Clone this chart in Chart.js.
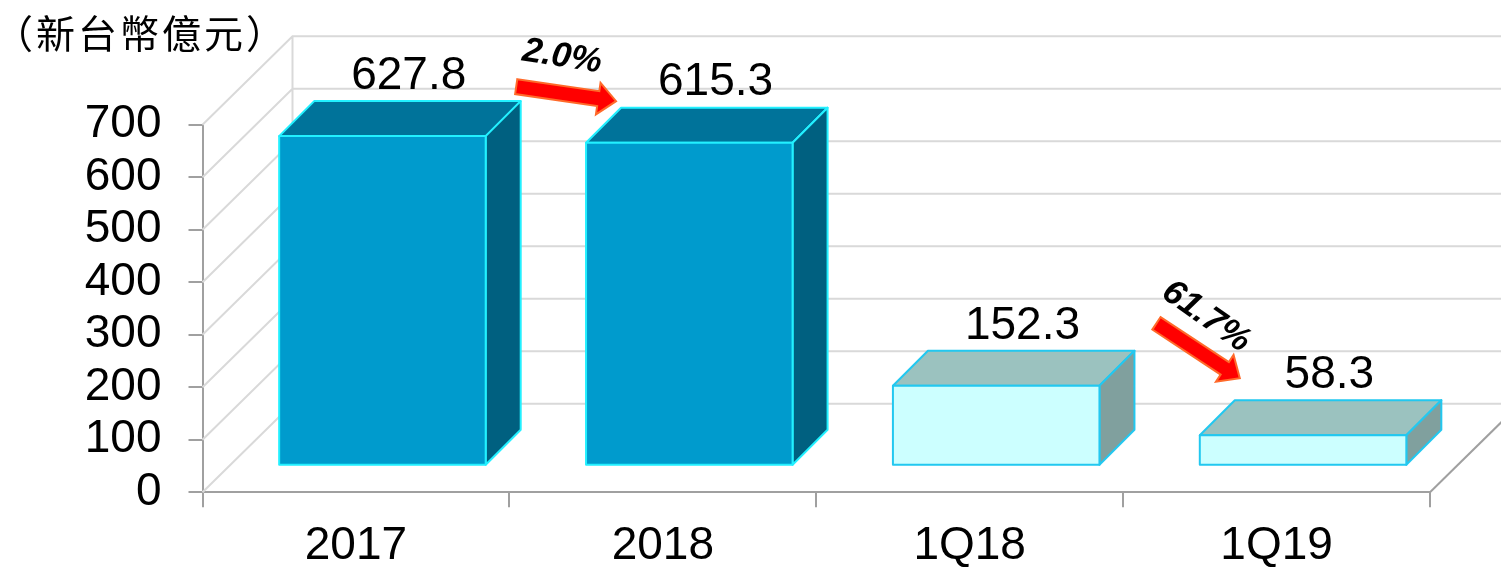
<!DOCTYPE html>
<html><head><meta charset="utf-8">
<script src="https://cdn.jsdelivr.net/npm/chart.js@4.4.1/dist/chart.umd.min.js"></script>
<style>html,body{margin:0;padding:0;background:#fff;overflow:hidden}</style>
</head><body>
<canvas id="c" width="1501" height="567" style="width:1501px;height:567px;display:block"></canvas>
<script>
// ---- data ----
const categories = ['2017', '2018', '1Q18', '1Q19'];
const values = [627.8, 615.3, 152.3, 58.3];
const yTickValues = [0, 100, 200, 300, 400, 500, 600, 700];
const unitLabel = '（新台幣億元）';
const changePairs = [[0, 1], [2, 3]];

// ---- styles ----
const frontColors = ['#009BCD', '#009BCD', '#CCFFFF', '#CCFFFF'];
const topColors   = ['#00739A', '#00739A', '#9BC2BF', '#9BC2BF'];
const sideColors  = ['#006080', '#006080', '#80A09E', '#80A09E'];
const edgeColors  = ['#22F0FF', '#22F0FF', '#22C8F0', '#22C8F0'];
const FONT = "'Liberation Sans', Arial, sans-serif";
const WALL_X = 90, WALL_Y = 88.5;   // back wall offset
const FRONT_GAP = 26.5;              // bar front face offset from front plane
const DEPTH = 35;                    // bar depth
const arrowStyle = [
  {tail: [-4.5, -14.5], tip: [-5, -6.5], text: [-4, -37], rot: 9},
  {tail: [22, -27.5], tip: [5, -22], text: [8, -34], rot: 35}
];

function barGeom(el) {
  const L = el.x - el.width / 2 + FRONT_GAP, R = el.x + el.width / 2 + FRONT_GAP;
  const T = el.y - FRONT_GAP, B = el.base - FRONT_GAP;
  return {L, R, T, B};
}

function drawArrow(ctx, x1, y1, x2, y2) {
  const ang = Math.atan2(y2 - y1, x2 - x1), len = Math.hypot(x2 - x1, y2 - y1);
  const sw = 7.5, hw = 16, hl = 18;
  ctx.save();
  ctx.translate(x1, y1); ctx.rotate(ang);
  ctx.beginPath();
  ctx.moveTo(0, -sw); ctx.lineTo(len - hl, -sw); ctx.lineTo(len - hl, -hw);
  ctx.lineTo(len, 0); ctx.lineTo(len - hl, hw); ctx.lineTo(len - hl, sw); ctx.lineTo(0, sw);
  ctx.closePath();
  ctx.fillStyle = '#FF0000'; ctx.fill();
  ctx.strokeStyle = '#FF6A2A'; ctx.lineWidth = 2; ctx.lineJoin = 'miter'; ctx.stroke();
  ctx.restore();
}

const threeD = {
  id: 'threeD',
  beforeDatasetsDraw(chart) {
    const {ctx, scales: {y}, chartArea: a} = chart;
    ctx.save();
    ctx.lineWidth = 2;
    ctx.strokeStyle = '#D9D9D9';
    ctx.beginPath();
    for (const v of yTickValues) {
      const py = y.getPixelForValue(v);
      ctx.moveTo(a.left, py);
      ctx.lineTo(a.left + WALL_X, py - WALL_Y);
      ctx.lineTo(a.right + WALL_X, py - WALL_Y);
    }
    ctx.moveTo(a.left + WALL_X, y.getPixelForValue(yTickValues[0]) - WALL_Y);
    ctx.lineTo(a.left + WALL_X, y.getPixelForValue(yTickValues[yTickValues.length - 1]) - WALL_Y);
    ctx.stroke();
    ctx.strokeStyle = '#A0A0A0';
    ctx.beginPath();
    ctx.moveTo(a.right, a.bottom);
    ctx.lineTo(a.right + WALL_X, a.bottom - WALL_Y);
    ctx.stroke();
    ctx.restore();
  },
  afterDatasetsDraw(chart) {
    const {ctx} = chart;
    const meta = chart.getDatasetMeta(0);
    ctx.save();
    meta.data.forEach((el, i) => {
      const {L, R, T, B} = barGeom(el);
      ctx.lineWidth = 2;
      ctx.lineJoin = 'round';
      ctx.strokeStyle = edgeColors[i];
      ctx.beginPath();
      ctx.moveTo(L, T); ctx.lineTo(R, T); ctx.lineTo(R + DEPTH, T - DEPTH); ctx.lineTo(L + DEPTH, T - DEPTH); ctx.closePath();
      ctx.fillStyle = topColors[i]; ctx.fill(); ctx.stroke();
      ctx.beginPath();
      ctx.moveTo(R, T); ctx.lineTo(R + DEPTH, T - DEPTH); ctx.lineTo(R + DEPTH, B - DEPTH); ctx.lineTo(R, B); ctx.closePath();
      ctx.fillStyle = sideColors[i]; ctx.fill(); ctx.stroke();
      ctx.beginPath();
      ctx.rect(L, T, R - L, B - T);
      ctx.fillStyle = frontColors[i]; ctx.fill(); ctx.stroke();
      ctx.fillStyle = '#000';
      ctx.font = '46px ' + FONT;
      ctx.textAlign = 'center';
      ctx.textBaseline = 'middle';
      ctx.fillText(values[i].toFixed(1), (L + R) / 2 + DEPTH * 0.75, T - DEPTH - 25);
    });
    changePairs.forEach(([f, t], k) => {
      const g1 = barGeom(meta.data[f]), g2 = barGeom(meta.data[t]);
      const s = arrowStyle[k];
      const x1 = g1.R + DEPTH + s.tail[0], y1 = g1.T - DEPTH + s.tail[1];
      const x2 = g2.L + DEPTH + s.tip[0], y2 = g2.T - DEPTH + s.tip[1];
      drawArrow(ctx, x1, y1, x2, y2);
      const pct = Math.abs((values[t] - values[f]) / values[f] * 100).toFixed(1) + '%';
      ctx.save();
      ctx.translate((x1 + x2) / 2 + s.text[0], (y1 + y2) / 2 + s.text[1]);
      ctx.rotate(s.rot * Math.PI / 180);
      ctx.font = 'italic bold 35px ' + FONT;
      ctx.fillStyle = '#000';
      ctx.textAlign = 'center';
      ctx.textBaseline = 'middle';
      ctx.fillText(pct, 0, 0);
      ctx.restore();
    });
    ctx.font = "39px 'Noto Sans CJK TC', 'Noto Sans CJK SC', sans-serif";
    ctx.fillStyle = '#000';
    ctx.textAlign = 'left';
    ctx.textBaseline = 'middle';
    try { ctx.letterSpacing = '3px'; } catch (e) {}
    ctx.fillText(unitLabel, -6, 33);
    ctx.restore();
  }
};

new Chart(document.getElementById('c'), {
  type: 'bar',
  data: {
    labels: categories,
    datasets: [{
      data: values,
      backgroundColor: 'rgba(0,0,0,0)',
      borderWidth: 0,
      categoryPercentage: 1.0,
      barPercentage: 0.673
    }]
  },
  options: {
    responsive: false,
    animation: false,
    events: [],
    layout: {padding: {top: 124.7, right: 71, left: 0, bottom: 0}},
    plugins: {legend: {display: false}, tooltip: {enabled: false}, title: {display: false}},
    scales: {
      x: {
        afterFit(s) { s.height = 567 - 492.3; },
        grid: {display: true, drawOnChartArea: false, drawTicks: true, tickLength: 15, color: '#A0A0A0', lineWidth: 2, offset: true},
        border: {display: true, color: '#A0A0A0', width: 2},
        ticks: {color: '#000', font: {size: 46, family: FONT}, padding: 11, maxRotation: 0, autoSkip: false}
      },
      y: {
        min: yTickValues[0],
        max: yTickValues[yTickValues.length - 1],
        afterFit(s) { s.width = 202.5; },
        afterBuildTicks(s) { s.ticks = yTickValues.map(v => ({value: v})); },
        grid: {display: true, drawOnChartArea: false, drawTicks: true, tickLength: 14, color: '#A0A0A0', lineWidth: 2},
        border: {display: true, color: '#A0A0A0', width: 2},
        ticks: {color: '#000', font: {size: 46, family: FONT}, padding: 27, autoSkip: false}
      }
    }
  },
  plugins: [threeD]
});
</script>
</body></html>
